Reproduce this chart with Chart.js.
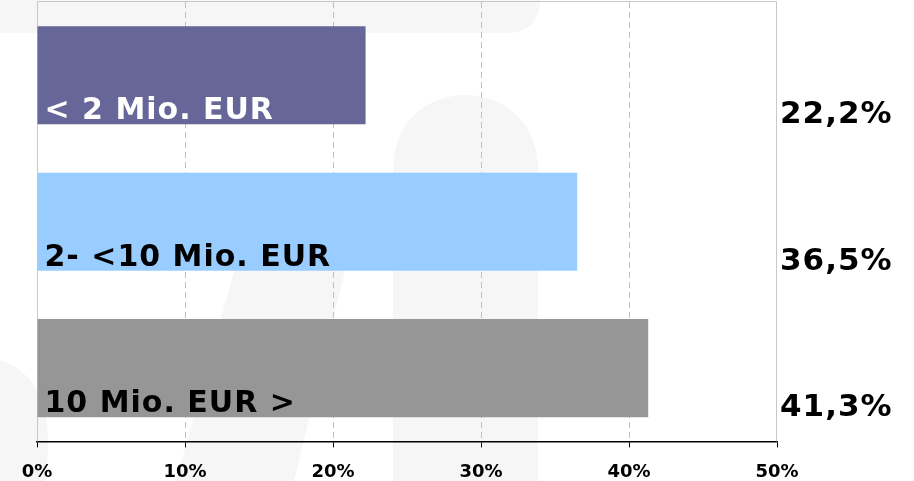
<!DOCTYPE html>
<html>
<head>
<meta charset="utf-8">
<script src="https://cdn.jsdelivr.net/npm/chart.js@4/dist/chart.umd.min.js"></script>
<style>
  html, body { margin: 0; padding: 0; background: #ffffff; }
  #wrap { width: 914px; height: 481px; }
</style>
</head>
<body>
<div id="wrap"><canvas id="chart" width="914" height="481"></canvas></div>
<script>
// data
var categories = ['< 2 Mio. EUR', '2- <10 Mio. EUR', '10 Mio. EUR >'];
var shares = [22.2, 36.5, 41.3];
var valueLabels = ['22,2%', '36,5%', '41,3%'];
var barColors = ['#666699', '#99ccff', '#969696'];
var labelColors = ['#ffffff', '#000000', '#000000'];
var tickLabels = ['0%', '10%', '20%', '30%', '40%', '50%'];

var FONT = '"DejaVu Sans", Verdana, sans-serif';

// faint logo shapes behind the chart
var watermarkPlugin = {
    id: 'watermark',
    beforeDraw: function(chart) {
        var ctx = chart.ctx;
        ctx.save();
        ctx.fillStyle = '#f6f6f6';
        // top band
        ctx.beginPath();
        ctx.moveTo(0, 0);
        ctx.lineTo(540, 0);
        ctx.quadraticCurveTo(540, 33, 505, 33);
        ctx.lineTo(0, 33);
        ctx.closePath();
        ctx.fill();
        // stem
        ctx.beginPath();
        ctx.moveTo(393, 481);
        ctx.lineTo(393, 170);
        ctx.bezierCurveTo(393, 70, 538, 70, 538, 170);
        ctx.lineTo(538, 481);
        ctx.closePath();
        ctx.fill();
        // diagonal stroke
        ctx.beginPath();
        ctx.moveTo(176, 481);
        ctx.lineTo(294, 481);
        ctx.lineTo(350, 250);
        ctx.lineTo(240, 250);
        ctx.closePath();
        ctx.fill();
        // left curve
        ctx.beginPath();
        ctx.moveTo(0, 360);
        ctx.quadraticCurveTo(60, 380, 45, 481);
        ctx.lineTo(0, 481);
        ctx.closePath();
        ctx.fill();
        ctx.restore();
    }
};

// light frame round the plot area (left, top, right)
var framePlugin = {
    id: 'frame',
    beforeDatasetsDraw: function(chart) {
        var a = chart.chartArea;
        var ctx = chart.ctx;
        ctx.save();
        ctx.strokeStyle = '#c8c8c8';
        ctx.lineWidth = 1;
        ctx.beginPath();
        ctx.moveTo(a.left + 0.5, a.bottom);
        ctx.lineTo(a.left + 0.5, a.top - 0.5);
        ctx.lineTo(a.right - 0.5, a.top - 0.5);
        ctx.lineTo(a.right - 0.5, a.bottom);
        ctx.stroke();
        ctx.restore();
    }
};

// category name inside each bar, value to the right of the plot
var labelPlugin = {
    id: 'barLabels',
    afterDatasetsDraw: function(chart) {
        var ctx = chart.ctx;
        var meta = chart.getDatasetMeta(0);
        var a = chart.chartArea;
        ctx.save();
        ctx.textBaseline = 'alphabetic';
        ctx.textAlign = 'left';
        for (var i = 0; i < meta.data.length; i++) {
            var bar = meta.data[i];
            var bottom = bar.y + bar.height / 2;
            ctx.font = 'bold 30px ' + FONT;
            ctx.letterSpacing = '1px';
            ctx.fillStyle = labelColors[i];
            ctx.fillText(categories[i], bar.base + 7, bottom - 5);
            ctx.font = 'bold 31px ' + FONT;
            ctx.letterSpacing = '1px';
            ctx.fillStyle = '#000000';
            ctx.fillText(valueLabels[i], a.right + 3, bottom - 1);
        }
        ctx.restore();
    }
};

new Chart(document.getElementById('chart'), {
    type: 'bar',
    data: {
        labels: categories,
        datasets: [{
            data: shares,
            backgroundColor: barColors,
            borderWidth: 0,
            categoryPercentage: 1,
            barPercentage: 0.67
        }]
    },
    options: {
        indexAxis: 'y',
        responsive: false,
        animation: false,
        layout: { padding: { left: 37, right: 137, top: 2, bottom: -16 } },
        plugins: {
            legend: { display: false },
            tooltip: { enabled: false }
        },
        scales: {
            y: { display: false },
            x: {
                min: 0,
                max: 50,
                ticks: {
                    stepSize: 10,
                    padding: 14,
                    color: '#000000',
                    font: { family: FONT, size: 18, weight: 'bold' },
                    callback: function(v, i) { return tickLabels[i]; }
                },
                grid: {
                    color: function(c) {
                        return (c.index === 0 || c.index === tickLabels.length - 1) ? 'rgba(0,0,0,0)' : '#c0c0c0';
                    },
                    lineWidth: 1,
                    tickLength: 6,
                    tickColor: '#000000',
                    tickWidth: 1
                },
                border: { display: true, color: '#000000', width: 1.5, dash: [6, 4] }
            }
        }
    },
    plugins: [watermarkPlugin, framePlugin, labelPlugin]
});
</script>
</body>
</html>
